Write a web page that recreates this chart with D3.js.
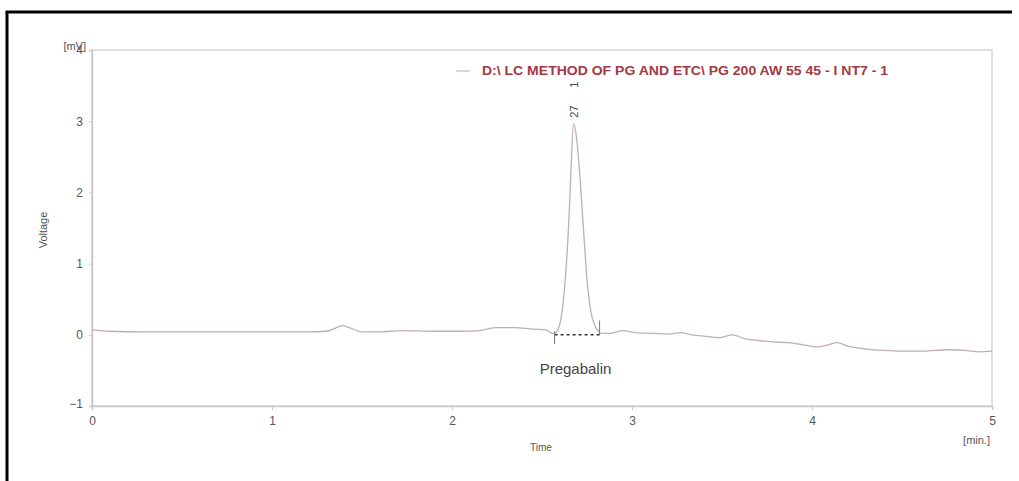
<!DOCTYPE html>
<html>
<head>
<meta charset="utf-8">
<script src="https://cdn.jsdelivr.net/npm/d3@7"></script>
<style>
  html, body { margin: 0; background: #fff; overflow: hidden; }
  svg { display: block; font-family: "Liberation Sans", Arial, sans-serif; }
</style>
</head>
<body>
<div id="chromatogram"></div>
<script>
// signal trace (time in min, voltage in mV)
const times = [0, 0.1, 0.3, 0.6, 0.9, 1.2, 1.3, 1.35, 1.39, 1.43, 1.5, 1.6, 1.72, 1.9, 2.05, 2.15, 2.25, 2.35, 2.45, 2.52, 2.56,
  2.57, 2.59, 2.61, 2.63, 2.65, 2.66, 2.675, 2.69, 2.71, 2.73, 2.75, 2.77, 2.79, 2.81, 2.83,
  2.88, 2.95, 3.02, 3.12, 3.2, 3.27, 3.33, 3.4, 3.49, 3.56, 3.62, 3.7, 3.78, 3.87, 3.95, 4.03, 4.09, 4.14, 4.2, 4.3, 4.4, 4.5, 4.62, 4.75, 4.85, 4.93, 5];
const volts = [0.07, 0.05, 0.04, 0.04, 0.04, 0.04, 0.05, 0.09, 0.13, 0.10, 0.04, 0.04, 0.06, 0.05, 0.05, 0.06, 0.10, 0.10, 0.08, 0.07, 0.02,
  0.02, 0.08, 0.3, 0.8, 1.65, 2.25, 2.97, 2.8, 2.25, 1.5, 0.78, 0.35, 0.15, 0.06, 0.02,
  0.02, 0.06, 0.03, 0.02, 0.01, 0.03, 0.0, -0.02, -0.04, 0.0, -0.05, -0.08, -0.10, -0.11, -0.14, -0.17, -0.14, -0.11, -0.16, -0.20, -0.22, -0.23, -0.23, -0.21, -0.22, -0.24, -0.23];

const xTicks = [0, 1, 2, 3, 4, 5];
const yTicks = [-1, 0, 1, 2, 3, 4];

const peakLabel = "Pregabalin";
const peakRT = "27", peakNo = "1";
const peakTime = 2.675, peakStart = 2.57, peakEnd = 2.82;
const legendText = "D:\\ LC METHOD OF PG AND ETC\\ PG 200 AW 55 45 - I NT7 - 1";

const w = 1019, h = 481,
  margin = ({ top: 50, right: 27, bottom: 75, left: 92 });

const svg = d3.select("#chromatogram")
  .append("svg")
  .attr("width", w)
  .attr("height", h);

// outer black frame (only top and left edges are in view)
svg.append("line")
  .attr("x1", 5.5).attr("x2", 1012)
  .attr("y1", 12).attr("y2", 12)
  .attr("stroke", "#000")
  .attr("stroke-width", 3);
svg.append("line")
  .attr("x1", 7).attr("x2", 7)
  .attr("y1", 12).attr("y2", h)
  .attr("stroke", "#000")
  .attr("stroke-width", 3);

const x = d3.scaleLinear().domain([0, 5]).range([margin.left, w - margin.right]);
const y = d3.scaleLinear().domain([-1, 4]).range([h - margin.bottom, margin.top]);

// plot box
svg.append("rect")
  .attr("x", x(0)).attr("y", y(4))
  .attr("width", x(5) - x(0)).attr("height", y(-1) - y(4))
  .attr("fill", "none")
  .attr("stroke", "#d4d4d4")
  .attr("stroke-width", 1.5);

const xAxis = svg.append("g")
  .attr("transform", `translate(0,${y(-1)})`)
  .call(d3.axisBottom(x).tickValues(xTicks).tickFormat(d3.format("d")).tickSize(4).tickPadding(4));
const yAxis = svg.append("g")
  .attr("transform", `translate(${x(0)},0)`)
  .call(d3.axisLeft(y).tickValues(yTicks).tickFormat(d3.format("d")).tickSize(3).tickPadding(6));

[xAxis, yAxis].forEach(g => {
  g.select(".domain").attr("stroke", "#c8c8c8").attr("stroke-width", 1.5);
  g.selectAll(".tick line").attr("stroke", "#c8c8c8");
  g.selectAll(".tick text").attr("fill", "#555").style("font-size", "12px");
});
xAxis.selectAll(".tick text").attr("dy", "0.95em");
yAxis.select(".tick:first-of-type text").attr("dy", "0.1em");

// the trace
const line = d3.line()
  .x((d, i) => x(times[i]))
  .y(d => y(d))
  .curve(d3.curveMonotoneX);

svg.append("path")
  .datum(volts)
  .attr("fill", "none")
  .attr("stroke", "#c2aeb1")
  .attr("stroke-width", 1.3)
  .attr("d", line);

// integration baseline and markers
svg.append("line")
  .attr("x1", x(peakStart)).attr("x2", x(peakEnd))
  .attr("y1", y(0.0)).attr("y2", y(0.0))
  .attr("stroke", "#333")
  .attr("stroke-width", 1.6)
  .attr("stroke-dasharray", "3,3");
svg.append("line")
  .attr("x1", x(peakStart)).attr("x2", x(peakStart))
  .attr("y1", y(0.05)).attr("y2", y(-0.13))
  .attr("stroke", "#777");
svg.append("line")
  .attr("x1", x(peakEnd)).attr("x2", x(peakEnd))
  .attr("y1", y(0.2)).attr("y2", y(0.0))
  .attr("stroke", "#777");

// retention time label
svg.append("text")
  .attr("transform", `translate(${x(peakTime) + 4},${y(3.05)}) rotate(-90)`)
  .attr("fill", "#444")
  .style("font-size", "11px")
  .text(peakRT);
svg.append("text")
  .attr("transform", `translate(${x(peakTime) + 4},${y(3.47)}) rotate(-90)`)
  .attr("fill", "#444")
  .style("font-size", "11px")
  .text(peakNo);

svg.append("text")
  .attr("x", x(peakTime) + 2)
  .attr("y", y(-0.55))
  .style("text-anchor", "middle")
  .attr("fill", "#444")
  .style("font-size", "15px")
  .text(peakLabel);

// legend
svg.append("line")
  .attr("x1", 456).attr("x2", 470)
  .attr("y1", 71).attr("y2", 71)
  .attr("stroke", "#c9a0a6");
svg.append("text")
  .attr("x", 482).attr("y", 75)
  .attr("fill", "#a53846")
  .attr("textLength", 406)
  .attr("lengthAdjust", "spacingAndGlyphs")
  .style("font-size", "12px")
  .style("font-weight", "600")
  .text(legendText);

// axis titles
svg.append("text")
  .attr("x", 86).attr("y", 50)
  .style("text-anchor", "end")
  .attr("fill", "#555")
  .style("font-size", "11px")
  .text("[mV]");
svg.append("text")
  .attr("transform", `translate(47,230) rotate(-90)`)
  .style("text-anchor", "middle")
  .attr("fill", "#555")
  .style("font-size", "11px")
  .text("Voltage");
svg.append("text")
  .attr("x", 541).attr("y", 451)
  .style("text-anchor", "middle")
  .attr("fill", "#555")
  .style("font-size", "10px")
  .text("Time");
svg.append("text")
  .attr("x", 990).attr("y", 444)
  .style("text-anchor", "end")
  .attr("fill", "#555")
  .style("font-size", "11px")
  .text("[min.]");
</script>
</body>
</html>
